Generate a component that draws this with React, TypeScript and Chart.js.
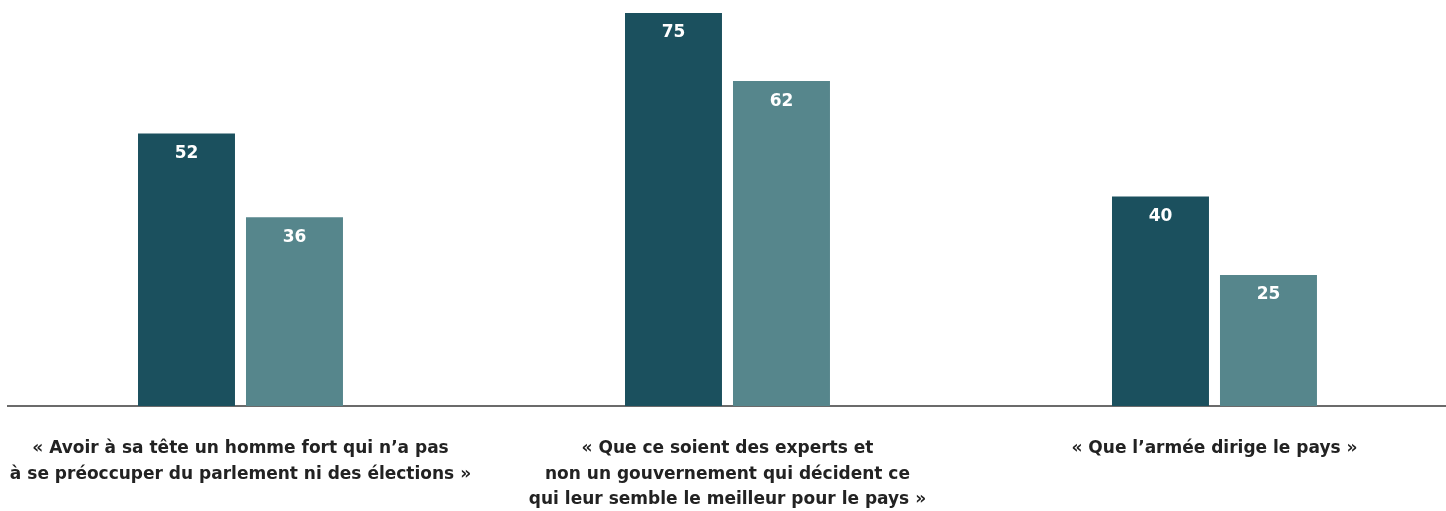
import React, { useEffect, useRef } from "react";
import { Chart, registerables } from "chart.js";

Chart.register(...registerables);

const categories: string[][] = [
  ["« Avoir à sa tête un homme fort qui n’a pas", "à se préoccuper du parlement ni des élections »"],
  ["« Que ce soient des experts et", "non un gouvernement qui décident ce", "qui leur semble le meilleur pour le pays »"],
  ["« Que l’armée dirige le pays »"],
];
const seriesA: number[] = [52, 75, 40];
const seriesB: number[] = [36, 62, 25];
const colorA = "#1b505e";
const colorB = "#56868c";
const FONT = "'DejaVu Sans', sans-serif";

const valueLabels = {
  id: "valueLabels",
  afterDatasetsDraw(chart: any) {
    const ctx = chart.ctx;
    ctx.save();
    ctx.fillStyle = "#ffffff";
    ctx.font = `bold 17px ${FONT}`;
    ctx.textAlign = "center";
    ctx.textBaseline = "middle";
    chart.data.datasets.forEach((ds: any, di: number) => {
      const meta = chart.getDatasetMeta(di);
      meta.data.forEach((el: any, i: number) => {
        ctx.fillText(String(ds.data[i].y), el.x, el.y + 20);
      });
    });
    ctx.restore();
  },
};

export default function App() {
  const ref = useRef<HTMLCanvasElement>(null);
  useEffect(() => {
    if (!ref.current) return;
    const chart = new Chart(ref.current, {
      type: "bar",
      data: {
        datasets: [
          { label: "A", data: seriesA.map((y, i) => ({ x: i, y })), backgroundColor: colorA },
          { label: "B", data: seriesB.map((y, i) => ({ x: i, y })), backgroundColor: colorB },
        ],
      },
      options: {
        animation: false,
        responsive: true,
        maintainAspectRatio: false,
        layout: { padding: { left: 8, top: 13, right: 0, bottom: 0 } },
        datasets: { bar: { categoryPercentage: 0.4435, barPercentage: 0.898 } },
        plugins: { legend: { display: false }, tooltip: { enabled: false } },
        scales: {
          x: {
            type: "linear",
            offset: false,
            min: -0.4774,
            max: 2.4754,
            grid: { display: false, drawTicks: false },
            border: { display: true, color: "#6b6b6b", width: 2 },
            afterBuildTicks: (scale: any) => {
              scale.ticks = categories.map((_, i) => ({ value: i }));
            },
            afterFit: (scale: any) => {
              scale.height = 105;
              scale.paddingLeft = 0;
              scale.paddingRight = 0;
            },
            ticks: {
              autoSkip: false,
              maxRotation: 0,
              padding: 30,
              color: "#222222",
              font: { family: FONT, size: 17, weight: "bold", lineHeight: 1.5 },
              callback: (v: any) => categories[v] ?? "",
            },
          },
          y: { display: false, min: 0, max: 75 },
        },
      },
      plugins: [valueLabels],
    });
    return () => chart.destroy();
  }, []);
  return (
    <div style={{ position: "fixed", left: 0, top: 0, width: 1446, height: 511 }}>
      <canvas ref={ref} />
    </div>
  );
}
